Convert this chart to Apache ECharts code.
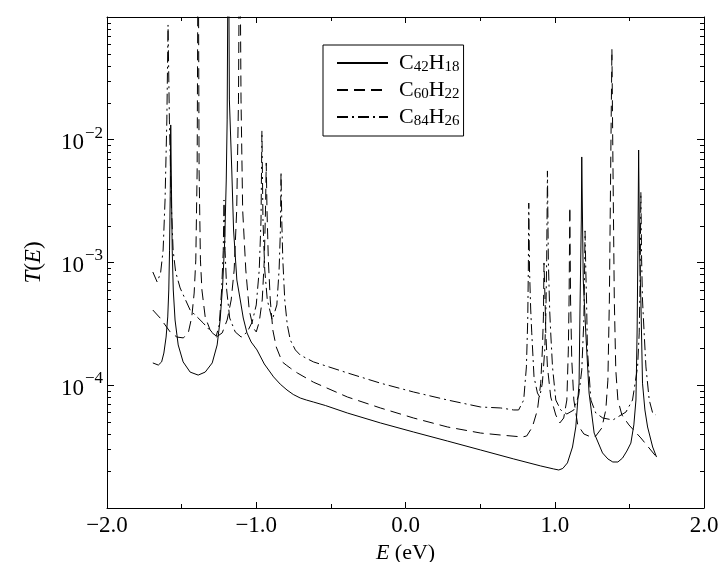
<!DOCTYPE html>
<html><head><meta charset="utf-8">
<script src="https://cdn.jsdelivr.net/npm/echarts@6/dist/echarts.min.js"></script>
<style>html,body{margin:0;padding:0;background:#fff}#c{width:719px;height:562px}</style>
</head><body><div id="c"></div>
<script>
const seriesNames = ['C42H18', 'C60H22', 'C84H26'];
const xMin = -2, xMax = 2;
const yMin = 1e-5, yMax = 1e-1;
const yMinor = [2e-5,3e-5,4e-5,5e-5,6e-5,7e-5,8e-5,9e-5,2e-4,3e-4,4e-4,5e-4,6e-4,7e-4,8e-4,9e-4,2e-3,3e-3,4e-3,5e-3,6e-3,7e-3,8e-3,9e-3,2e-2,3e-2,4e-2,5e-2,6e-2,7e-2,8e-2,9e-2];

// [E (eV), T(E)]
const c42h18 = [
[-1.693,1.52e-4],[-1.656,1.46e-4],[-1.634,1.55e-4],[-1.619,1.83e-4],[-1.604,2.47e-4],[-1.593,3.60e-4],
[-1.586,5.97e-4],[-1.581,1.26e-3],[-1.576,3.90e-3],[-1.573,1.32e-2],[-1.568,3.90e-3],[-1.563,1.26e-3],
[-1.556,5.97e-4],[-1.544,3.40e-4],[-1.523,2.13e-4],[-1.490,1.55e-4],[-1.443,1.28e-4],[-1.389,1.21e-4],
[-1.342,1.28e-4],[-1.295,1.52e-4],[-1.262,2.13e-4],[-1.242,3.40e-4],[-1.225,6.56e-4],[-1.211,1.53e-3],
[-1.201,4.70e-3],[-1.195,1.45e-2],[-1.187,1.0],[-1.180,2.11e-2],[-1.164,5.67e-3],[-1.152,1.84e-3],
[-1.130,7.20e-4],[-1.107,4.95e-4],[-1.087,3.53e-4],[-1.062,2.67e-4],[-1.034,2.25e-4],[-0.995,1.94e-4],
[-0.946,1.49e-4],[-0.884,1.17e-4],[-0.839,1.02e-4],[-0.794,9.15e-5],[-0.752,8.41e-5],[-0.705,7.87e-5],
[-0.664,7.58e-5],[-0.617,7.30e-5],[-0.537,6.84e-5],[-0.389,5.94e-5],[-0.168,4.93e-5],[0.054,4.16e-5],
[0.282,3.51e-5],[0.503,2.97e-5],[0.725,2.51e-5],[0.906,2.20e-5],[0.993,2.08e-5],[1.027,2.04e-5],
[1.054,2.10e-5],[1.085,2.33e-5],[1.119,3.14e-5],[1.141,4.57e-5],[1.163,1.04e-4],[1.170,4.95e-4],
[1.178,2.22e-3],[1.181,7.24e-3],[1.186,2.22e-3],[1.191,7.20e-4],[1.208,2.67e-4],[1.230,8.65e-5],
[1.264,4.08e-5],[1.320,2.81e-5],[1.356,2.51e-5],[1.389,2.37e-5],[1.423,2.37e-5],[1.454,2.55e-5],
[1.483,2.91e-5],[1.510,3.38e-5],[1.530,4.75e-5],[1.544,7.58e-5],[1.552,2.82e-4],[1.557,1.26e-3],
[1.562,8.25e-3],[1.568,1.26e-3],[1.577,4.95e-4],[1.588,1.04e-4],[1.604,6.29e-5],[1.622,4.57e-5],
[1.656,3.14e-5],[1.682,2.60e-5]
];

const c60h22 = [
[-1.693,4.10e-4],[-1.644,3.53e-4],[-1.577,2.72e-4],[-1.532,2.47e-4],[-1.488,2.43e-4],[-1.454,2.72e-4],
[-1.432,3.60e-4],[-1.416,5.64e-4],[-1.405,1.05e-3],[-1.396,5.67e-3],[-1.389,1.0],[-1.383,5.67e-3],
[-1.374,1.05e-3],[-1.364,5.97e-4],[-1.342,3.60e-4],[-1.309,2.82e-4],[-1.268,2.47e-4],[-1.228,2.67e-4],
[-1.195,3.40e-4],[-1.168,4.95e-4],[-1.148,8.69e-4],[-1.131,2.68e-3],[-1.119,2.11e-2],[-1.111,1.0],
[-1.102,2.11e-2],[-1.091,2.68e-3],[-1.070,8.69e-4],[-1.047,4.10e-4],[-1.020,2.93e-4],[-1.000,2.72e-4],
[-0.980,3.28e-4],[-0.960,4.95e-4],[-0.946,1.05e-3],[-0.938,2.68e-3],[-0.933,6.47e-3],[-0.928,2.68e-3],
[-0.919,1.05e-3],[-0.906,4.95e-4],[-0.889,2.82e-4],[-0.866,2.05e-4],[-0.826,1.55e-4],[-0.799,1.46e-4],
[-0.772,1.38e-4],[-0.725,1.26e-4],[-0.617,1.06e-4],[-0.389,8.02e-5],[-0.168,6.53e-5],[0.054,5.41e-5],
[0.282,4.57e-5],[0.503,4.08e-5],[0.638,3.93e-5],[0.783,3.79e-5],[0.812,3.86e-5],[0.850,4.57e-5],
[0.884,6.29e-5],[0.906,1.04e-4],[0.917,1.94e-4],[0.924,3.60e-4],[0.928,9.91e-4],[0.935,4.95e-4],
[0.940,2.67e-4],[0.951,1.41e-4],[0.973,8.02e-5],[1.007,5.72e-5],[1.034,4.93e-5],[1.060,5.41e-5],
[1.081,7.58e-5],[1.091,1.94e-4],[1.096,4.95e-4],[1.101,2.83e-3],[1.106,4.95e-4],[1.114,1.61e-4],
[1.128,7.58e-5],[1.154,4.75e-5],[1.195,4.01e-5],[1.242,3.79e-5],[1.275,3.86e-5],[1.315,4.48e-5],
[1.342,6.29e-5],[1.356,1.10e-4],[1.366,4.95e-4],[1.376,8.25e-3],[1.383,5.49e-2],[1.389,8.25e-3],
[1.399,4.95e-4],[1.409,1.33e-4],[1.423,7.58e-5],[1.450,5.72e-5],[1.497,4.75e-5],[1.577,3.72e-5],
[1.682,2.60e-5]
];

const c84h26 = [
[-1.693,8.37e-4],[-1.664,6.94e-4],[-1.641,8.21e-4],[-1.624,1.26e-3],[-1.611,3.23e-3],[-1.599,1.45e-2],
[-1.591,8.61e-2],[-1.582,1.45e-2],[-1.570,3.23e-3],[-1.557,1.26e-3],[-1.540,8.37e-4],[-1.510,6.20e-4],
[-1.443,4.10e-4],[-1.356,3.22e-4],[-1.295,2.67e-4],[-1.268,2.52e-4],[-1.248,3.10e-4],[-1.232,5.97e-4],
[-1.221,1.26e-3],[-1.216,3.23e-3],[-1.209,1.26e-3],[-1.198,5.97e-4],[-1.178,3.53e-4],[-1.141,2.72e-4],
[-1.101,2.47e-4],[-1.060,2.72e-4],[-1.027,3.28e-4],[-1.000,4.51e-4],[-0.980,8.69e-4],[-0.968,2.22e-3],
[-0.962,1.18e-2],[-0.955,2.22e-3],[-0.943,8.69e-4],[-0.926,4.95e-4],[-0.893,3.40e-4],[-0.862,4.51e-4],
[-0.847,8.69e-4],[-0.838,1.84e-3],[-0.834,5.46e-3],[-0.829,2.22e-3],[-0.822,1.05e-3],[-0.809,4.95e-4],
[-0.792,3.10e-4],[-0.772,2.34e-4],[-0.738,1.94e-4],[-0.705,1.76e-4],[-0.617,1.55e-4],[-0.389,1.26e-4],
[-0.168,1.04e-4],[0.054,8.81e-5],[0.282,7.58e-5],[0.503,6.65e-5],[0.638,6.53e-5],[0.725,6.29e-5],
[0.758,6.29e-5],[0.792,7.58e-5],[0.810,1.41e-4],[0.819,3.40e-4],[0.823,8.69e-4],[0.826,3.05e-3],
[0.831,8.69e-4],[0.839,4.10e-4],[0.846,2.67e-4],[0.861,1.17e-4],[0.884,8.65e-5],[0.899,8.02e-5],
[0.917,1.04e-4],[0.933,1.94e-4],[0.940,3.60e-4],[0.946,1.05e-3],[0.951,5.57e-3],[0.957,1.05e-3],
[0.966,4.10e-4],[0.973,2.67e-4],[0.985,1.41e-4],[1.007,7.58e-5],[1.040,6.29e-5],[1.081,5.83e-5],
[1.128,6.29e-5],[1.161,8.33e-5],[1.181,1.33e-4],[1.195,3.40e-4],[1.200,8.69e-4],[1.203,1.81e-3],
[1.208,8.69e-4],[1.213,4.95e-4],[1.219,1.94e-4],[1.242,7.58e-5],[1.275,5.94e-5],[1.322,5.41e-5],
[1.389,5.21e-5],[1.477,6.05e-5],[1.521,7.58e-5],[1.555,1.41e-4],[1.566,2.67e-4],[1.572,7.20e-4],
[1.577,3.75e-3],[1.582,1.05e-3],[1.588,4.95e-4],[1.599,2.67e-4],[1.611,1.41e-4],[1.633,7.58e-5],
[1.656,5.94e-5],[1.678,5.72e-5]
];

const FONT = '"Liberation Serif", "DejaVu Serif", serif';
const BLACK = '#000';
const lineTypes = ['solid', [11, 6], [11, 4, 2, 4]];
const seriesData = [c42h18, c60h22, c84h26];

const xLabel = v => (v < 0 ? '\u2212' : '') + Math.abs(v).toFixed(1);
const yLabel = v => {
  const e = Math.round(Math.log10(v));
  if (e === -1 || e === -5) return '';
  return '{b|10}{s|\u2212' + Math.abs(e) + '}';
};
const yRich = {
  b: { fontFamily: FONT, fontSize: 23, color: BLACK, lineHeight: 30, verticalAlign: 'bottom' },
  s: { fontFamily: FONT, fontSize: 17, color: BLACK, lineHeight: 17, verticalAlign: 'top', padding: [0, 0, 12, 1] }
};

const chart = echarts.init(document.getElementById('c'), null, { renderer: 'canvas' });
const baseX = {
  type: 'value', min: xMin, max: xMax, interval: 1,
  axisLine: { onZero: false, lineStyle: { color: BLACK, width: 1 } },
  axisTick: { inside: true, length: 6, lineStyle: { color: BLACK, width: 1 } },
  minorTick: { show: true, splitNumber: 2, length: 4, lineStyle: { color: BLACK, width: 1 } },
  splitLine: { show: false }, minorSplitLine: { show: false }
};
const baseY = {
  type: 'log', logBase: 10, min: yMin, max: yMax,
  axisLine: { onZero: false, lineStyle: { color: BLACK, width: 1 } },
  axisTick: { inside: true, length: 7, lineStyle: { color: BLACK, width: 1 } },
  splitLine: { show: false }
};

chart.setOption({
  animation: false,
  backgroundColor: '#fff',
  grid: { left: 107, right: 15, top: 17, bottom: 54, containLabel: false, outerBoundsMode: 'none' },
  xAxis: [
    Object.assign({}, baseX, {
      position: 'bottom',
      axisLabel: { formatter: xLabel, fontFamily: FONT, fontSize: 23, color: BLACK, margin: 6 },
      name: '{i|E} (eV)', nameLocation: 'middle', nameGap: 25,
      nameTextStyle: { fontFamily: FONT, fontSize: 22, color: BLACK,
        rich: { i: { fontFamily: FONT, fontSize: 22, fontStyle: 'italic', color: BLACK } } }
    }),
    Object.assign({}, baseX, { position: 'top', axisLabel: { show: false } })
  ],
  yAxis: [
    Object.assign({}, baseY, {
      position: 'left',
      axisLabel: { formatter: yLabel, margin: 4, rich: yRich },
      name: '{i|T}({i|E})', nameLocation: 'middle', nameGap: 62,
      nameTextStyle: { fontFamily: FONT, fontSize: 23, color: BLACK,
        rich: { i: { fontFamily: FONT, fontSize: 23, fontStyle: 'italic', color: BLACK } } }
    }),
    Object.assign({}, baseY, { position: 'right', axisLabel: { show: false } })
  ],
  legend: {
    data: seriesNames, orient: 'vertical', left: 323, top: 45,
    itemWidth: 51, itemHeight: 14, itemGap: 4,
    padding: [7, 4, 7, 13], borderColor: BLACK, borderWidth: 1, backgroundColor: '#fff',
    selectedMode: false,
    itemStyle: { opacity: 0 },
    formatter: name => '{g|}' + name.replace(/([A-Z]+)(\d+)/g, '{b|$1}{s|$2}'),
    textStyle: {
      color: BLACK, fontFamily: FONT, fontSize: 22,
      rich: {
        g: { width: 6 },
        b: { fontFamily: FONT, fontSize: 22, color: BLACK, lineHeight: 24 },
        s: { fontFamily: FONT, fontSize: 15, color: BLACK, lineHeight: 15, verticalAlign: 'bottom' }
      }
    }
  },
  series: seriesNames.map((n, i) => ({
    name: n, type: 'line', data: seriesData[i], symbol: 'none', clip: true,
    xAxisIndex: 0, yAxisIndex: 0,
    lineStyle: { color: BLACK, width: 1, type: lineTypes[i] },
    itemStyle: { color: BLACK }, emphasis: { disabled: true }
  })).concat([{
    type: 'custom', name: 'minorTicks', xAxisIndex: 0, yAxisIndex: 0, silent: true, clip: false,
    data: yMinor.map(v => [xMin, v]),
    renderItem: (params, api) => {
      const v = api.value(1);
      const pL = api.coord([xMin, v]);
      const pR = api.coord([xMax, v]);
      const y = Math.round(pL[1]) + 0.5;
      return { type: 'group', children: [
        { type: 'line', shape: { x1: pL[0], y1: y, x2: pL[0] + 4, y2: y }, style: { stroke: BLACK, lineWidth: 1 } },
        { type: 'line', shape: { x1: pR[0], y1: y, x2: pR[0] - 4, y2: y }, style: { stroke: BLACK, lineWidth: 1 } }
      ] };
    }
  }])
});
</script></body></html>
